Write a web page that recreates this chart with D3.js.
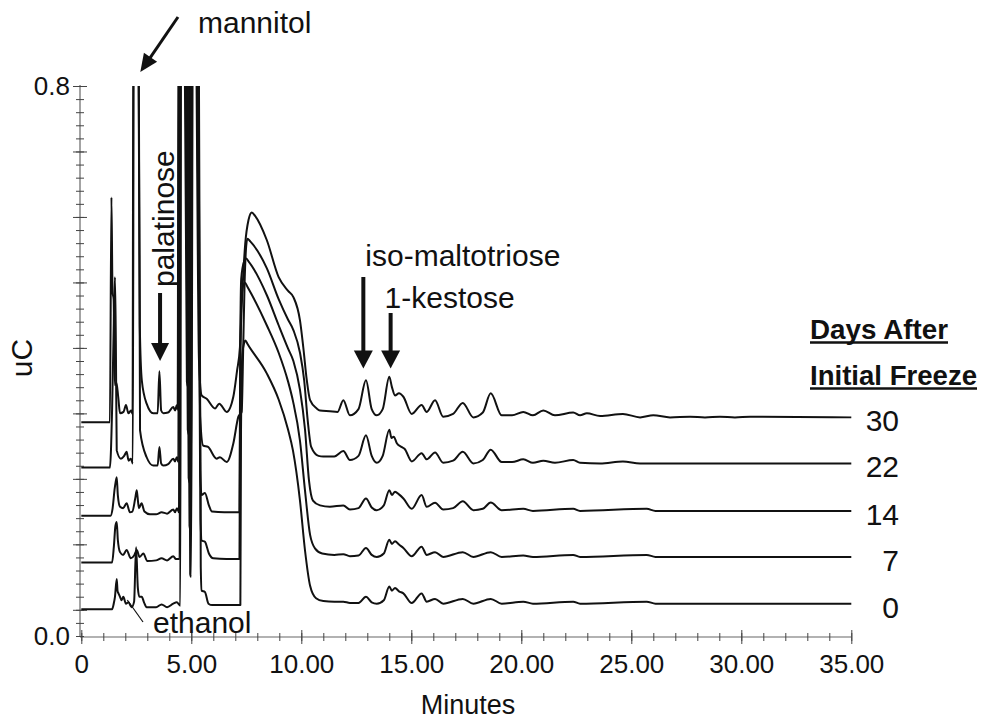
<!DOCTYPE html>
<html>
<head>
<meta charset="utf-8">
<script src="https://cdn.jsdelivr.net/npm/d3@7"></script>
<style>
  body { margin: 0; background: #fff; }
  text { font-family: "Liberation Sans", Arial, sans-serif; fill: #111; }
</style>
</head>
<body>
<div id="chart"></div>
<script>
// Days after initial freeze, top trace first
const days = ["30", "22", "14", "7", "0"];

// [minutes, uC]
const trace_30 = [[0.00,0.311],[1.30,0.311],[1.37,0.638],[1.42,0.50],[1.47,0.49],[1.52,0.365],[1.60,0.368],[1.68,0.347],[1.76,0.324],[1.92,0.326],[2.03,0.336],[2.14,0.324],[2.26,0.328],[2.33,0.323],[2.37,0.95],[2.58,0.95],[2.66,0.45],[2.75,0.372],[2.97,0.338],[3.27,0.324],[3.47,0.324],[3.55,0.385],[3.63,0.328],[3.73,0.324],[3.94,0.325],[4.18,0.333],[4.26,0.328],[4.34,0.336],[4.38,0.329],[4.42,0.95],[4.68,0.95],[4.80,0.37],[4.86,0.362],[4.92,0.95],[5.18,0.95],[5.35,0.40],[5.47,0.350],[5.70,0.345],[6.08,0.331],[6.27,0.338],[6.61,0.326],[6.91,0.348],[7.08,0.386],[7.21,0.420],[7.32,0.50],[7.45,0.57],[7.60,0.605],[7.75,0.616],[7.90,0.611],[8.43,0.576],[8.97,0.522],[9.40,0.502],[9.64,0.493],[9.94,0.459],[10.09,0.420],[10.25,0.372],[10.40,0.343],[10.70,0.331],[10.85,0.328],[11.30,0.327],[11.65,0.326],[11.91,0.343],[12.21,0.321],[12.60,0.330],[12.94,0.372],[13.20,0.330],[13.43,0.321],[13.70,0.330],[14.00,0.377],[14.12,0.362],[14.26,0.350],[14.44,0.353],[14.64,0.348],[15.02,0.323],[15.47,0.336],[15.70,0.326],[16.08,0.343],[16.45,0.319],[16.90,0.323],[17.34,0.339],[17.82,0.318],[18.25,0.325],[18.61,0.353],[19.11,0.321],[19.58,0.321],[20.09,0.326],[20.53,0.321],[21.00,0.328],[21.53,0.321],[22.36,0.325],[22.67,0.321],[22.98,0.324],[23.58,0.320],[24.62,0.323],[25.40,0.318],[26.00,0.321],[26.76,0.318],[27.67,0.319],[28.35,0.318],[29.03,0.319],[29.71,0.318],[30.40,0.319],[35.00,0.318]];

const trace_22 = [[0.00,0.245],[1.30,0.245],[1.40,0.33],[1.48,0.46],[1.53,0.522],[1.57,0.43],[1.61,0.270],[1.80,0.258],[1.95,0.262],[2.06,0.268],[2.15,0.255],[2.25,0.258],[2.34,0.251],[2.39,0.95],[2.60,0.95],[2.67,0.299],[2.97,0.260],[3.27,0.248],[3.47,0.248],[3.55,0.275],[3.63,0.251],[3.73,0.248],[3.95,0.250],[4.18,0.258],[4.26,0.254],[4.34,0.260],[4.41,0.253],[4.45,0.95],[4.72,0.95],[4.84,0.30],[4.90,0.292],[4.97,0.95],[5.22,0.95],[5.40,0.32],[5.54,0.277],[5.76,0.275],[6.15,0.258],[6.30,0.260],[6.61,0.253],[6.91,0.280],[7.14,0.319],[7.29,0.326],[7.36,0.42],[7.42,0.51],[7.48,0.560],[7.55,0.578],[7.68,0.574],[8.43,0.535],[8.97,0.490],[9.40,0.460],[9.64,0.445],[9.94,0.412],[10.13,0.372],[10.29,0.314],[10.45,0.275],[10.78,0.262],[11.00,0.261],[11.50,0.261],[11.91,0.269],[12.21,0.256],[12.60,0.262],[12.94,0.292],[13.20,0.262],[13.43,0.252],[13.70,0.262],[14.00,0.300],[14.10,0.288],[14.20,0.290],[14.35,0.280],[14.55,0.275],[14.70,0.272],[15.02,0.254],[15.47,0.266],[15.70,0.257],[16.08,0.267],[16.45,0.252],[16.90,0.255],[17.34,0.268],[17.82,0.251],[18.25,0.256],[18.61,0.271],[19.11,0.253],[19.58,0.253],[20.09,0.257],[20.53,0.252],[21.00,0.255],[21.53,0.252],[22.36,0.256],[22.67,0.252],[23.58,0.251],[24.62,0.254],[25.40,0.251],[26.76,0.251],[35.00,0.251]];

const trace_14 = [[0.00,0.175],[1.33,0.175],[1.42,0.185],[1.52,0.215],[1.61,0.231],[1.66,0.205],[1.76,0.188],[1.90,0.186],[2.06,0.193],[2.21,0.180],[2.32,0.181],[2.45,0.200],[2.52,0.212],[2.58,0.195],[2.62,0.186],[2.74,0.193],[2.87,0.181],[3.12,0.177],[3.40,0.177],[3.65,0.180],[3.90,0.178],[4.18,0.184],[4.26,0.180],[4.35,0.186],[4.44,0.180],[4.48,0.95],[4.76,0.95],[4.88,0.23],[4.94,0.222],[5.01,0.95],[5.26,0.95],[5.40,0.24],[5.47,0.205],[5.62,0.208],[5.80,0.190],[5.94,0.181],[6.50,0.180],[7.19,0.180],[7.22,0.40],[7.27,0.52],[7.40,0.545],[7.49,0.549],[7.60,0.545],[8.43,0.496],[8.97,0.452],[9.40,0.418],[9.64,0.400],[9.94,0.358],[10.17,0.300],[10.35,0.226],[10.53,0.197],[10.85,0.190],[11.30,0.188],[11.91,0.190],[12.21,0.184],[12.60,0.186],[12.94,0.200],[13.20,0.187],[13.43,0.183],[13.75,0.190],[14.00,0.212],[14.12,0.205],[14.26,0.210],[14.44,0.206],[14.64,0.200],[15.02,0.185],[15.47,0.205],[15.70,0.188],[16.08,0.194],[16.45,0.184],[16.90,0.186],[17.34,0.196],[17.82,0.183],[18.25,0.185],[18.61,0.194],[19.11,0.183],[20.09,0.185],[20.53,0.182],[22.36,0.185],[22.67,0.182],[25.70,0.185],[26.10,0.182],[35.00,0.182]];

const trace_7 = [[0.00,0.107],[1.40,0.107],[1.48,0.130],[1.55,0.160],[1.61,0.166],[1.66,0.140],[1.76,0.122],[1.90,0.118],[2.06,0.125],[2.25,0.113],[2.40,0.117],[2.52,0.125],[2.65,0.115],[2.82,0.120],[3.00,0.109],[3.40,0.110],[3.65,0.113],[3.90,0.110],[4.18,0.116],[4.30,0.112],[4.47,0.112],[4.51,0.95],[4.80,0.95],[4.92,0.16],[4.98,0.152],[5.05,0.95],[5.30,0.95],[5.42,0.17],[5.47,0.139],[5.62,0.137],[5.80,0.120],[6.00,0.113],[6.60,0.112],[7.19,0.112],[7.22,0.35],[7.28,0.49],[7.38,0.512],[7.44,0.514],[7.55,0.508],[8.43,0.452],[8.97,0.412],[9.40,0.370],[9.62,0.342],[9.94,0.284],[10.17,0.211],[10.40,0.147],[10.63,0.127],[10.95,0.120],[11.50,0.118],[11.91,0.119],[12.21,0.116],[12.60,0.117],[12.94,0.128],[13.20,0.118],[13.43,0.115],[13.75,0.120],[14.00,0.140],[14.12,0.134],[14.26,0.138],[14.44,0.133],[14.64,0.128],[15.02,0.116],[15.47,0.130],[15.70,0.118],[16.08,0.122],[16.45,0.115],[17.34,0.122],[17.82,0.115],[18.61,0.122],[19.11,0.115],[20.09,0.117],[20.53,0.115],[22.36,0.118],[22.67,0.115],[25.70,0.118],[26.10,0.115],[35.00,0.115]];

const trace_0 = [[0.00,0.039],[1.40,0.039],[1.48,0.048],[1.53,0.057],[1.61,0.083],[1.65,0.065],[1.69,0.062],[1.76,0.057],[1.83,0.052],[1.91,0.057],[2.03,0.047],[2.14,0.049],[2.29,0.042],[2.40,0.050],[2.49,0.129],[2.57,0.070],[2.64,0.057],[2.75,0.057],[2.85,0.049],[2.97,0.042],[3.40,0.042],[3.65,0.046],[3.90,0.042],[4.18,0.047],[4.34,0.049],[4.50,0.044],[4.54,0.95],[4.83,0.95],[4.95,0.09],[4.99,0.086],[5.08,0.95],[5.33,0.95],[5.43,0.10],[5.47,0.066],[5.62,0.064],[5.78,0.047],[5.95,0.045],[6.60,0.045],[7.23,0.045],[7.26,0.30],[7.32,0.41],[7.40,0.426],[7.46,0.430],[7.55,0.425],[8.43,0.382],[8.97,0.344],[9.40,0.300],[9.62,0.270],[9.94,0.197],[10.17,0.124],[10.40,0.073],[10.67,0.055],[11.00,0.051],[11.50,0.050],[11.91,0.050],[12.21,0.048],[12.60,0.048],[12.94,0.057],[13.20,0.049],[13.43,0.047],[13.75,0.052],[14.00,0.072],[14.12,0.066],[14.26,0.070],[14.44,0.065],[14.64,0.062],[15.02,0.048],[15.47,0.062],[15.70,0.050],[16.08,0.054],[16.45,0.047],[17.34,0.054],[17.82,0.047],[18.61,0.054],[19.11,0.047],[20.09,0.050],[20.53,0.047],[22.36,0.050],[22.67,0.047],[25.70,0.050],[26.10,0.047],[35.00,0.047]];

const traces = [trace_30, trace_22, trace_14, trace_7, trace_0];

const xTickValues = [0, 5, 10, 15, 20, 25, 30, 35];
const xTickLabels = ["0", "5.00", "10.00", "15.00", "20.00", "25.00", "30.00", "35.00"];
const yTickValues = [0.0, 0.8];
const yTickLabels = ["0.0", "0.8"];

// Peak names and the minute each arrow points at
const peakNames = ["mannitol", "palatinose", "iso-maltotriose", "1-kestose", "ethanol"];
const peakMinutes = [2.66, 3.58, 12.82, 14.06, 2.07];

const width = 982;
const height = 720;
const font = "'Liberation Sans', Arial, sans-serif";

const svg = d3.select("#chart")
    .append("svg")
    .attr("width", width)
    .attr("height", height);

// Scales
const xScale = d3.scaleLinear()
    .domain([0, 35])
    .range([81.3, 851.3]);

const yScale = d3.scaleLinear()
    .domain([0, 0.8])
    .range([636, 86]);

const axisY = 637;
const axisX = 80;

// Title Arrow
// Description shaft plus filled head, tip at (x2, y2)
function arrow(x1, y1, x2, y2, shaft, headLen, headHalf) {
    const dx = x2 - x1, dy = y2 - y1;
    const len = Math.sqrt(dx * dx + dy * dy);
    const ux = dx / len, uy = dy / len;
    const bx = x2 - ux * headLen, by = y2 - uy * headLen;
    svg.append("line")
        .attr("x1", x1).attr("y1", y1)
        .attr("x2", bx + ux * 2).attr("y2", by + uy * 2)
        .attr("stroke", "#111")
        .attr("stroke-width", shaft);
    svg.append("polygon")
        .attr("points", [[x2, y2], [bx - uy * headHalf, by + ux * headHalf], [bx + uy * headHalf, by - ux * headHalf]].join(" "))
        .attr("fill", "#111");
}

// Axes
svg.append("line")
    .attr("x1", axisX).attr("x2", axisX)
    .attr("y1", yScale(0.8) - 1).attr("y2", axisY)
    .attr("stroke", "#666").attr("stroke-width", 1.2);

svg.append("line")
    .attr("x1", axisX).attr("x2", xScale(35))
    .attr("y1", axisY).attr("y2", axisY)
    .attr("stroke", "#666").attr("stroke-width", 1.2);

// minor and major ticks crossing the axis lines
const yMinor = d3.range(0, 43).map(function(i) { return 0.8 - i * 0.8 / 42; });
const yMajor = yMinor.filter(function(d, i) { return i % 5 === 0; });
const xMinor = d3.range(0, 36);

function tickGroup(axis, tx, ty) {
    const g = svg.append("g")
        .attr("transform", `translate(${tx},${ty})`)
        .call(axis);
    g.select(".domain").remove();
    g.selectAll("line").attr("stroke", "#444").attr("stroke-width", 1);
    return g;
}

tickGroup(d3.axisLeft(yScale).tickValues(yMinor).tickSize(8).tickFormat(""), axisX + 4, 0);
tickGroup(d3.axisLeft(yScale).tickValues(yMajor).tickSize(14).tickFormat(""), axisX + 7, 0);
tickGroup(d3.axisBottom(xScale).tickValues(xMinor).tickSize(8).tickFormat(""), 0, axisY - 4);
tickGroup(d3.axisBottom(xScale).tickValues(xTickValues).tickSize(14).tickFormat(""), 0, axisY - 7);

const yLabels = tickGroup(d3.axisLeft(yScale)
        .tickValues(yTickValues)
        .tickSize(0)
        .tickPadding(10)
        .tickFormat(function(d, i) { return yTickLabels[i]; }), axisX, 0);
yLabels.selectAll("text").attr("font-size", 26).attr("font-family", font).attr("fill", "#111");

const xLabels = tickGroup(d3.axisBottom(xScale)
        .tickValues(xTickValues)
        .tickSize(0)
        .tickPadding(18)
        .tickFormat(function(d, i) { return xTickLabels[i]; }), 0, axisY);
xLabels.selectAll("text").attr("font-size", 26).attr("font-family", font).attr("fill", "#111");

svg.append("text")
    .attr("x", 468)
    .attr("y", 714)
    .attr("text-anchor", "middle")
    .attr("font-size", 27)
    .text("Minutes");

svg.append("text")
    .attr("transform", "translate(32,358) rotate(-90)")
    .attr("text-anchor", "middle")
    .attr("font-size", 30)
    .text("uC");

// Traces
svg.append("clipPath")
    .attr("id", "plot-clip")
    .append("rect")
    .attr("x", axisX)
    .attr("y", yScale(0.8))
    .attr("width", 800)
    .attr("height", axisY - yScale(0.8));

const line = d3.line()
    .x(function(d) { return xScale(d[0]); })
    .y(function(d) { return yScale(d[1]); })
    .curve(d3.curveMonotoneX);

svg.append("g")
    .attr("clip-path", "url(#plot-clip)")
    .selectAll("path")
    .data(traces)
    .enter()
    .append("path")
        .attr("d", line)
        .attr("fill", "none")
        .attr("stroke", "#111")
        .attr("stroke-width", 2)
        .attr("stroke-linejoin", "round");

// Day labels at the end of each trace
svg.selectAll(".day-label")
    .data(traces)
    .enter()
    .append("text")
        .attr("class", "day-label")
        .attr("x", 899)
        .attr("y", function(d) { return yScale(d[d.length - 1][1]) + 14; })
        .attr("text-anchor", "end")
        .attr("font-size", 30)
        .text(function(d, i) { return days[i]; });

// Legend heading
const heading = [["Days After", 339, 138], ["Initial Freeze", 385, 167]];
heading.forEach(function(h) {
    svg.append("text")
        .attr("x", 810)
        .attr("y", h[1])
        .attr("font-size", 27)
        .attr("font-weight", "bold")
        .attr("textLength", h[2])
        .attr("lengthAdjust", "spacingAndGlyphs")
        .text(h[0]);
    svg.append("line")
        .attr("x1", 810).attr("x2", 810 + h[2])
        .attr("y1", h[1] + 3.5).attr("y2", h[1] + 3.5)
        .attr("stroke", "#111")
        .attr("stroke-width", 2.5);
});

// Peak annotations
const xm = xScale(peakMinutes[0]);
svg.append("text").attr("x", 198).attr("y", 33).attr("font-size", 30).text(peakNames[0]);
arrow(178, 17, xm + 0.5, 72, 3, 18, 8);

const xp = xScale(peakMinutes[1]);
svg.append("text")
    .attr("transform", `translate(${xp + 14},287) rotate(-90)`)
    .attr("font-size", 30)
    .text(peakNames[1]);
arrow(xp, 293, xp, 361, 4, 18, 9);

const xi = xScale(peakMinutes[2]);
svg.append("text").attr("x", xi + 2).attr("y", 266).attr("font-size", 30).text(peakNames[2]);
arrow(xi, 277, xi, 368.5, 4, 18, 9.5);

const xk = xScale(peakMinutes[3]);
svg.append("text").attr("x", xk - 6).attr("y", 308).attr("font-size", 30).text(peakNames[3]);
arrow(xk, 313, xk, 368.5, 4, 18, 9.5);

const xe = xScale(peakMinutes[4]);
svg.append("text").attr("x", 153).attr("y", 633).attr("font-size", 30).text(peakNames[4]);
svg.append("line")
    .attr("x1", xe + 0.5).attr("y1", 600)
    .attr("x2", 143).attr("y2", 622)
    .attr("stroke", "#111").attr("stroke-width", 1.2);
</script>
</body>
</html>
